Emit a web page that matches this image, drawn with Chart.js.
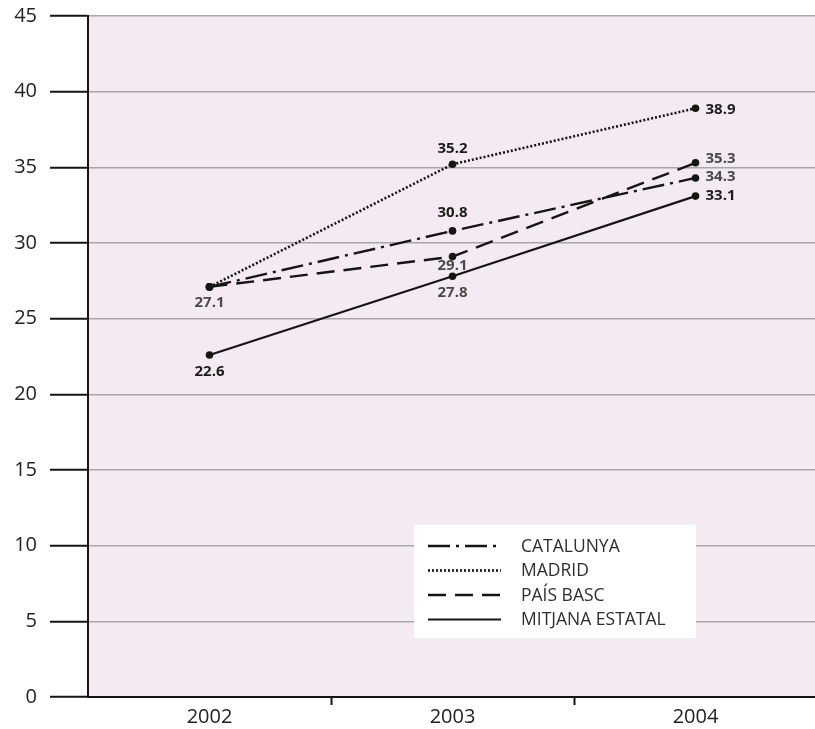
<!DOCTYPE html>
<html>
<head>
<meta charset="utf-8">
<script src="https://cdn.jsdelivr.net/npm/chart.js@4/dist/chart.umd.min.js"></script>
<style>
  html, body { margin: 0; padding: 0; background: #fff; overflow: hidden; }
  #wrap { width: 821px; height: 729px; }
</style>
</head>
<body>
<div id="wrap"><canvas id="chart"></canvas></div>
<script>
const years = ["2002", "2003", "2004"];
const catalunya = [27.1, 30.8, 34.3];
const madrid = [27.1, 35.2, 38.9];
const paisBasc = [27.1, 29.1, 35.3];
const mitjana = [22.6, 27.8, 33.1];
const yTicks = [0, 5, 10, 15, 20, 25, 30, 35, 40, 45];

const FONT = "'Open Sans', 'Noto Sans', sans-serif";
const INK = "#151515";

function series(label, data, dash, width) {
  return {
    label: label,
    data: data,
    borderColor: INK,
    borderWidth: width,
    borderDash: dash,
    borderCapStyle: "butt",
    pointRadius: 3.8,
    pointBackgroundColor: INK,
    pointBorderWidth: 0,
    tension: 0,
    fill: false
  };
}

const datasets = [
  series("CATALUNYA", catalunya, [22, 6, 3, 6], 2.4),
  series("MADRID", madrid, [2, 2], 2.6),
  series("PAÍS BASC", paisBasc, [18, 9], 2.4),
  series("MITJANA ESTATAL", mitjana, [], 2.2)
];

// pink plot background
const plotBg = {
  id: "plotBg",
  beforeDraw(chart) {
    const a = chart.chartArea, ctx = chart.ctx;
    ctx.save();
    ctx.fillStyle = "#f4ebf2";
    ctx.fillRect(a.left, a.top, a.right - a.left, a.bottom - a.top);
    ctx.restore();
  }
};

// value labels next to the points
const valueLabels = {
  id: "valueLabels",
  afterDatasetsDraw(chart) {
    const ctx = chart.ctx;
    // [dx, dy, align] per dataset and point
    const place = [
      [[0, 16, "center"], [0, -18, "center"], [10, -1, "left"]],
      [[0, 16, "center"], [0, -16, "center"], [10, 1, "left"]],
      [[0, 16, "center"], [0, 9, "center"], [10, -4, "left"]],
      [[0, 17, "center"], [0, 16, "center"], [10, 0, "left"]]
    ];
    const light = { "0-0": 1, "0-2": 1, "2-1": 1, "2-2": 1, "3-1": 1 };
    const seen = {};
    ctx.save();
    ctx.font = "bold 15px " + FONT;
    ctx.textBaseline = "middle";
    chart.data.datasets.forEach((ds, d) => {
      chart.getDatasetMeta(d).data.forEach((pt, i) => {
        const key = i + "|" + ds.data[i];
        if (seen[key]) return;
        seen[key] = true;
        const p = place[d][i];
        ctx.fillStyle = light[d + "-" + i] ? "#4a4a4a" : "#1c1c1c";
        ctx.textAlign = p[2];
        ctx.fillText(ds.data[i].toFixed(1), pt.x + p[0], pt.y + p[1]);
      });
    });
    ctx.restore();
  }
};

// boxed legend inside the plot
const boxLegend = {
  id: "boxLegend",
  afterDraw(chart) {
    const ctx = chart.ctx, a = chart.chartArea;
    const x = a.left + 326, y = a.bottom - 172;
    ctx.save();
    ctx.fillStyle = "#ffffff";
    ctx.fillRect(x, y, 282, 113);
    ctx.font = "17.5px " + FONT;
    ctx.textBaseline = "middle";
    ctx.textAlign = "left";
    chart.data.datasets.forEach((ds, k) => {
      const ry = y + 21 + k * 24.5;
      ctx.strokeStyle = ds.borderColor;
      ctx.lineWidth = ds.borderWidth;
      ctx.setLineDash(ds.borderDash);
      ctx.beginPath();
      ctx.moveTo(x + 14, ry);
      ctx.lineTo(x + 87, ry);
      ctx.stroke();
      ctx.setLineDash([]);
      ctx.fillStyle = "#2e2e2e";
      ctx.fillText(ds.label, x + 107, ry + 1);
    });
    ctx.restore();
  }
};

new Chart(document.getElementById("chart"), {
  type: "line",
  data: { labels: years, datasets: datasets },
  plugins: [plotBg, valueLabels, boxLegend],
  options: {
    responsive: true,
    maintainAspectRatio: false,
    animation: false,
    layout: { padding: { top: 16, right: 0, bottom: 0, left: 0 } },
    plugins: { legend: { display: false }, tooltip: { enabled: false } },
    scales: {
      x: {
        offset: true,
        afterFit(scale) { scale.height = 32; },
        grid: {
          offset: true,
          drawOnChartArea: false,
          tickLength: 8,
          tickColor: (c) => (c.index === 0 ? "rgba(0,0,0,0)" : INK),
          tickWidth: 2
        },
        border: { color: INK, width: 2 },
        ticks: { color: "#222", font: { family: FONT, size: 20 }, padding: 0 }
      },
      y: {
        min: 0,
        max: 45,
        afterFit(scale) {
          scale.width = 88;
          scale.paddingTop = 0;
          scale.paddingBottom = 0;
        },
        afterBuildTicks(scale) { scale.ticks = yTicks.map(v => ({ value: v })); },
        grid: {
          color: "#a9a6a9",
          lineWidth: 1.6,
          tickLength: 38,
          tickColor: INK,
          tickWidth: 2
        },
        border: { color: INK, width: 2 },
        ticks: { color: "#222", font: { family: FONT, size: 20 }, padding: 13 }
      }
    }
  }
});
</script>
</body>
</html>
